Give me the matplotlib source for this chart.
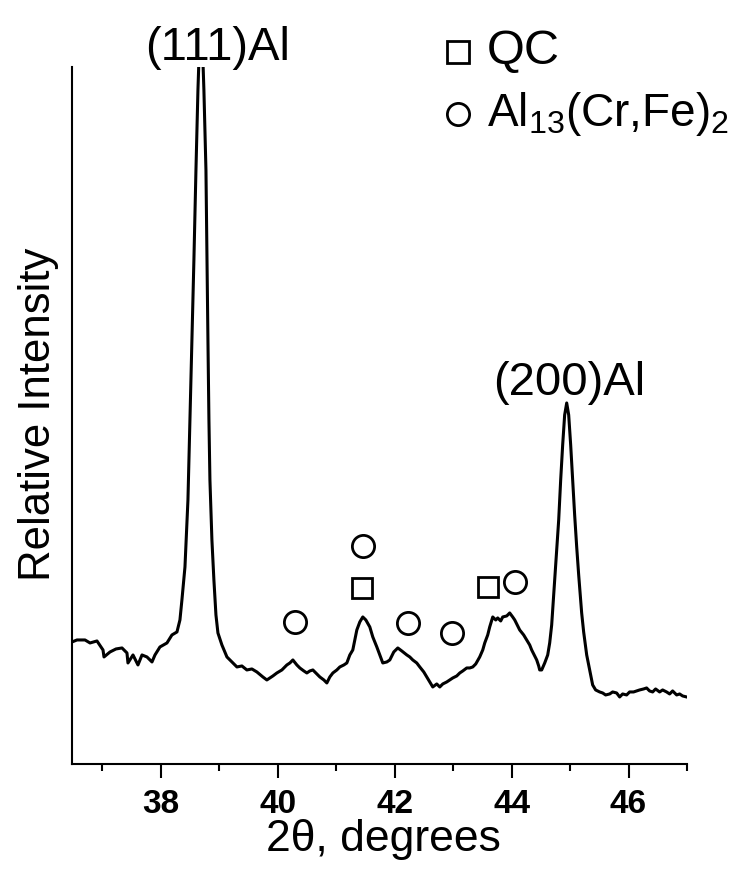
import matplotlib
matplotlib.use('Agg')
import matplotlib.pyplot as plt

# XRD scan (2theta in degrees, intensity in arbitrary units)
two_theta = [
    36.480, 36.565, 36.702, 36.788, 36.907, 37.010, 37.027, 37.130, 37.232, 37.335,
    37.420, 37.437, 37.523, 37.608, 37.677, 37.762, 37.848, 37.899, 37.984, 38.104,
    38.189, 38.275, 38.326, 38.360, 38.412, 38.463, 38.497, 38.531, 38.565, 38.600,
    38.634, 38.668, 38.702, 38.736, 38.771, 38.788, 38.805, 38.822, 38.839, 38.873,
    38.907, 38.942, 38.976, 39.044, 39.130, 39.215, 39.301, 39.386, 39.471, 39.557,
    39.642, 39.745, 39.813, 39.865, 39.916, 39.984, 40.070, 40.155, 40.207, 40.258,
    40.326, 40.377, 40.446, 40.497, 40.548, 40.600, 40.668, 40.719, 40.788, 40.839,
    40.890, 40.942, 41.010, 41.061, 41.130, 41.181, 41.232, 41.283, 41.352, 41.403,
    41.454, 41.506, 41.574, 41.625, 41.694, 41.745, 41.796, 41.865, 41.916, 41.984,
    42.053, 42.121, 42.207, 42.258, 42.309, 42.377, 42.429, 42.497, 42.548, 42.600,
    42.651, 42.719, 42.771, 42.822, 42.890, 42.942, 42.993, 43.061, 43.113, 43.164,
    43.232, 43.284, 43.335, 43.386, 43.454, 43.506, 43.540, 43.591, 43.625, 43.677,
    43.728, 43.762, 43.813, 43.848, 43.916, 43.967, 44.018, 44.053, 44.104, 44.138,
    44.206, 44.258, 44.309, 44.343, 44.395, 44.429, 44.463, 44.480, 44.514, 44.566,
    44.617, 44.651, 44.685, 44.702, 44.736, 44.771, 44.805, 44.839, 44.873, 44.907,
    44.942, 44.976, 45.010, 45.044, 45.078, 45.113, 45.147, 45.198, 45.232, 45.284,
    45.335, 45.386, 45.437, 45.506, 45.557, 45.608, 45.677, 45.728, 45.796, 45.848,
    45.899, 45.967, 46.018, 46.086, 46.138, 46.189, 46.258, 46.309, 46.360, 46.412,
    46.463, 46.531, 46.583, 46.651, 46.703, 46.754, 46.823, 46.874, 46.925, 46.993,
]
intensity = [
    122, 124, 124, 121, 123, 114, 107, 112, 115, 116,
    111, 101, 109, 99, 109, 107, 102, 109, 117, 121,
    129, 132, 144, 164, 197, 264, 344, 424, 504, 594,
    674, 734, 734, 674, 594, 504, 424, 344, 284, 224,
    184, 149, 131, 119, 107, 102, 97, 98, 94, 95,
    92, 87, 84, 86, 88, 91, 94, 99, 101, 104,
    99, 96, 93, 91, 93, 94, 90, 87, 84, 81,
    87, 91, 94, 97, 99, 101, 109, 114, 134, 142,
    147, 144, 137, 127, 117, 109, 101, 102, 104, 112,
    116, 113, 109, 107, 104, 101, 97, 92, 87, 82,
    77, 80, 77, 80, 82, 84, 86, 88, 91, 93,
    96, 96, 97, 100, 107, 114, 121, 129, 137, 147,
    144, 146, 143, 147, 148, 151, 147, 144, 138, 134,
    129, 124, 119, 114, 108, 104, 98, 94, 94, 101,
    109, 121, 139, 154, 184, 214, 244, 284, 319, 349,
    361, 349, 319, 284, 249, 217, 189, 151, 132, 109,
    94, 79, 74, 72, 71, 69, 70, 72, 71, 67,
    70, 69, 72, 72, 73, 74, 75, 76, 73, 72,
    75, 72, 74, 72, 70, 73, 69, 70, 68, 67,
]

# phase markers
qc_pos = [41.44, 43.59]
qc_int = [176, 177]
al13_pos = [40.29, 41.46, 42.22, 42.98, 44.05]
al13_int = [142, 218, 141, 131, 182]

peak_labels = ['(111)Al', '(200)Al']
peak_label_pos = [38.97, 44.98]
peak_label_int = [704, 369]

xticks = [38, 40, 42, 44, 46]

plt.rcParams['font.family'] = ['Liberation Sans', 'DejaVu Sans']
plt.rcParams['mathtext.default'] = 'regular'

fig = plt.figure(figsize=(7.44, 8.72), dpi=100)
ax = fig.add_axes([0.0968, 0.1239, 0.8266, 0.7993])

ax.plot(two_theta, intensity, color='black', lw=2.2)
ax.plot(qc_pos, qc_int, 's', ms=15, mfc='white', mec='black', mew=2.0, ls='none')
ax.plot(al13_pos, al13_int, 'o', ms=16, mfc='white', mec='black', mew=2.0, ls='none')

for lab, xp, yp in zip(peak_labels, peak_label_pos, peak_label_int):
    ax.text(xp, yp, lab, ha='center', va='baseline', fontsize=34, clip_on=False)

# legend drawn by hand
ax.plot([0.6276], [1.0215], 's', ms=16, mfc='white', mec='black', mew=2.0,
        transform=ax.transAxes, clip_on=False)
ax.plot([0.6276], [0.9326], 'o', ms=16, mfc='white', mec='black', mew=2.0,
        transform=ax.transAxes, clip_on=False)
ax.text(0.675, 1.0215, 'QC', transform=ax.transAxes, fontsize=35, va='center')
ax.text(0.675, 0.9326, 'Al$_{13}$(Cr,Fe)$_2$', transform=ax.transAxes,
        fontsize=33, va='center')

ax.set_xlim(36.48, 47.0)
ax.set_ylim(0, 697)
ax.set_xticks(xticks)
ax.set_xticks([37, 39, 41, 43, 45, 47], minor=True)
ax.set_yticks([])
ax.spines['top'].set_visible(False)
ax.spines['right'].set_visible(False)
ax.spines['left'].set_linewidth(1.5)
ax.spines['bottom'].set_linewidth(1.5)
ax.tick_params(axis='x', which='major', length=10, width=1.5, direction='out', pad=8)
ax.tick_params(axis='x', which='minor', length=5, width=1.5, direction='out')
for lbl in ax.get_xticklabels():
    lbl.set_fontweight('bold')
    lbl.set_fontsize(24)

ax.set_xlabel('2\u03b8, degrees', fontsize=32)
ax.xaxis.set_label_coords(0.5065, -0.108)
ax.xaxis.label.set_va('center')
ax.set_ylabel('Relative Intensity', fontsize=31.5)
ax.yaxis.set_label_coords(-0.0553, 0.502)
ax.yaxis.label.set_va('center')

fig.savefig('out.png', dpi=100)
